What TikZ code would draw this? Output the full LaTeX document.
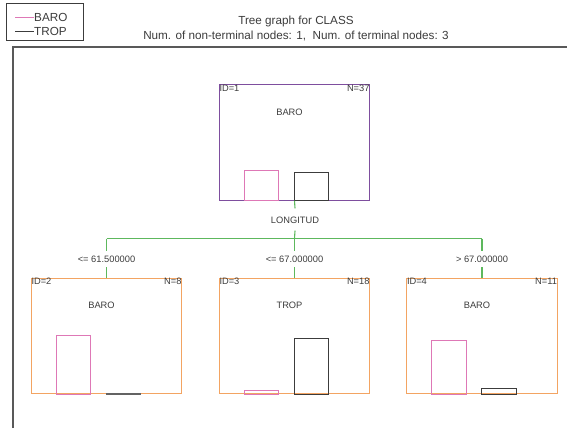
\documentclass[tikz,border=0pt]{standalone}
\usepackage{fontspec}
\setmainfont{Liberation Sans}
\usepackage{tikz}
\definecolor{Treepurple}{HTML}{7E4E9E}
\definecolor{Treeorange}{HTML}{F3A462}
\definecolor{Treegreen}{HTML}{5DB85D}
\definecolor{Treepink}{HTML}{DE78B6}
\definecolor{Treegray}{HTML}{3C3C3C}
\newcommand{\nodefont}{\fontsize{9.3}{11}\selectfont}
\newcommand{\headfont}{\fontsize{11.7}{13}\selectfont}
\tikzstyle{treebox} = [
    draw,
    rectangle,
    minimum width=150.4pt,
    minimum height=115.5pt,
    inner sep=0pt,
    line width=1.2pt
]
\tikzstyle{corner} = [font=\nodefont, text=Treegray, inner sep=0.6pt]
\tikzstyle{cut} = [font=\nodefont, text=Treegray, inner xsep=1pt, inner ysep=4.5pt, text height=7pt, text depth=0pt]
\tikzstyle{branch} = [Treegreen, line width=1.1pt]
\tikzstyle{barobar} = [Treepink, line width=1pt]
\tikzstyle{tropbar} = [Treegray, line width=1pt]
% bars of one tree node: name, BARO share, TROP share
\newcommand{\classbars}[3]{
    \draw[barobar] ([xshift=25.4pt]#1.south west) rectangle ++(34.6,{-59*#2});
    \draw[tropbar] ([xshift=75.6pt]#1.south west) rectangle ++(34.6,{-59*#3});
}

\begin{document}
\begin{tikzpicture}[x=1pt, y=-1pt]
    \useasboundingbox[fill=white] (0,0) rectangle (567,428);
    % Legend
    \draw[Treegray, line width=1pt] (6,4) rectangle (83,41);
    \coordinate (keyB) at (15,17);
    \coordinate (keyT) at (15,31.5);
    \node[font=\headfont, text=Treegray, anchor=west, inner sep=0pt] (baro) at (34,17) {BARO};
    \node[font=\headfont, text=Treegray, anchor=west, inner sep=0pt] (trop) at (34,31.5) {TROP};
    \draw[Treepink, line width=0.8pt] (keyB) -- (baro.west);
    \draw[Treegray, line width=0.8pt] (keyT) -- (trop.west);
    % Title
    \node[font=\headfont, text=Treegray] (title) at (296,21.5) {Tree graph for CLASS};
    \node[font=\headfont, text=Treegray] (subtitle) at (296,36.5) {Num. of non-terminal nodes: 1,\ \ Num. of terminal nodes: 3};
    % Frame
    \draw[Treegray!85, line width=1.8pt] (13,428) -- (13,47) -- (567,47);

    % Root node
    \node[treebox, draw=Treepurple] (root) at (294.5,142.4) {};
    \node[corner, anchor=north west] (id1) at (root.north west) {ID=1};
    \node[corner, anchor=north east] (n1) at (root.north east) {N=37};
    \node[font=\nodefont, text=Treegray] (c1) at ([xshift=-5pt,yshift=-28pt]root.north) {BARO};
    \classbars{root}{0.514}{0.486}

    % Split on LONGITUD
    \node[cut, inner ysep=7.5pt] (split) at (295,219.5) {LONGITUD};
    \coordinate (busL) at (106.5,238.5);
    \coordinate (busM) at (294.5,238.5);
    \coordinate (busR) at (482,238.5);
    \draw[branch] (root.south) -- (split.north);
    \draw[branch] (split.south) -- (busM);
    \draw[branch] (busL) -- (busR);

    % Terminal nodes
    \node[treebox, draw=Treeorange] (t2) at (106.5,335.9) {};
    \node[treebox, draw=Treeorange] (t3) at (294.5,335.9) {};
    \node[treebox, draw=Treeorange] (t4) at (482,335.9) {};
    \node[cut] (cut2) at (106.5,259) {<= 61.500000};
    \node[cut] (cut3) at (294.5,259) {<= 67.000000};
    \node[cut] (cut4) at (482,259) {> 67.000000};
    \draw[branch] (busL) -- (cut2.north);
    \draw[branch] (busM) -- (cut3.north);
    \draw[branch] (busR) -- (cut4.north);
    \draw[branch] (cut2.south) -- (t2.north);
    \draw[branch] (cut3.south) -- (t3.north);
    \draw[branch] (cut4.south) -- (t4.north);

    \node[corner, anchor=north west] (id2) at (t2.north west) {ID=2};
    \node[corner, anchor=north east] (n2) at (t2.north east) {N=8};
    \node[font=\nodefont, text=Treegray] (c2) at ([xshift=-5pt,yshift=-28pt]t2.north) {BARO};
    \node[corner, anchor=north west] (id3) at (t3.north west) {ID=3};
    \node[corner, anchor=north east] (n3) at (t3.north east) {N=18};
    \node[font=\nodefont, text=Treegray] (c3) at ([xshift=-5pt,yshift=-28pt]t3.north) {TROP};
    \node[corner, anchor=north west] (id4) at (t4.north west) {ID=4};
    \node[corner, anchor=north east] (n4) at (t4.north east) {N=11};
    \node[font=\nodefont, text=Treegray] (c4) at ([xshift=-5pt,yshift=-28pt]t4.north) {BARO};
    \classbars{t2}{1}{0}
    \classbars{t3}{0.056}{0.944}
    \classbars{t4}{0.909}{0.091}
    % empty TROP bar in node 2
    \draw[Treegray!80, line width=1.8pt] ([xshift=75.6pt]t2.south west) -- ++(34.6,0);
\end{tikzpicture}
\end{document}
